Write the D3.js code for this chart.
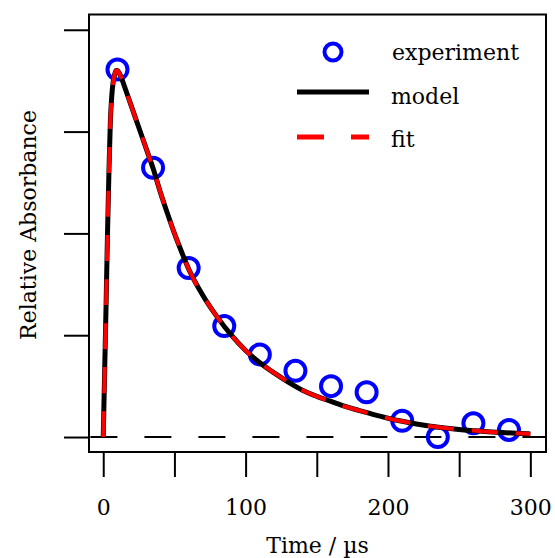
<!DOCTYPE html>
<html>
<head>
<meta charset="utf-8">
<script src="https://cdn.jsdelivr.net/npm/d3@7"></script>
<style>
  body { margin: 0; background: #fff; }
  svg text { font-family: "DejaVu Serif", serif; fill: #000; }
</style>
</head>
<body>
<div id="graph"></div>
<script>
// experiment points (time in us, relative absorbance)
var expTime = [10, 35, 60, 85, 110, 135, 160, 185, 210, 235, 260, 285];
var expAbs = [3.61, 2.645, 1.66, 1.09, 0.81, 0.65, 0.50, 0.44, 0.16, 0.0, 0.135, 0.07];

// model curve
var modelTime = [0, 1, 2, 3, 4, 5, 6, 7, 8, 9, 10, 11, 13, 15, 20, 25, 30, 35, 40, 45, 50, 55, 60,
  70, 80, 90, 100, 110, 120, 130, 140, 150, 160, 170, 180, 190, 200, 210, 220, 230, 240, 250,
  260, 270, 280, 290, 300];
var modelAbs = [0, 0.65, 1.3, 2.0, 2.6, 3.1, 3.35, 3.49, 3.56, 3.6, 3.6, 3.58, 3.52, 3.44, 3.24,
  3.04, 2.84, 2.64, 2.41, 2.2, 2.0, 1.82, 1.65, 1.39, 1.18, 1.0, 0.85, 0.73, 0.63, 0.54, 0.46,
  0.40, 0.35, 0.30, 0.26, 0.22, 0.185, 0.155, 0.128, 0.105, 0.088, 0.074, 0.063, 0.053, 0.045,
  0.037, 0.03];

// fit curve (lies on top of the model)
var fitTime = [0, 1, 2, 3, 4, 5, 6, 7, 8, 9, 10, 11, 13, 15, 20, 25, 30, 35, 40, 45, 50, 55, 60,
  70, 80, 90, 100, 110, 120, 130, 140, 150, 160, 170, 180, 190, 200, 210, 220, 230, 240, 250,
  260, 270, 280, 290, 300];
var fitAbs = [0, 0.64, 1.3, 2.0, 2.6, 3.1, 3.35, 3.49, 3.56, 3.6, 3.6, 3.58, 3.52, 3.44, 3.24,
  3.04, 2.84, 2.64, 2.41, 2.2, 2.0, 1.82, 1.65, 1.39, 1.18, 1.0, 0.85, 0.73, 0.63, 0.54, 0.46,
  0.40, 0.35, 0.30, 0.26, 0.22, 0.185, 0.155, 0.128, 0.105, 0.088, 0.074, 0.063, 0.053, 0.045,
  0.037, 0.03];

var xTicks = [0, 50, 100, 150, 200, 250, 300];
var xLabels = [0, 100, 200, 300];
var yTicks = [0, 1, 2, 3, 4];

var legendNames = ["experiment", "model", "fit"];

var width = 555, height = 558;
// plot frame edges
var pLeft = 89, pRight = 546, pTop = 14.5, pBottom = 452;

var svg = d3.select("#graph")
  .append("svg")
    .attr("width", width)
    .attr("height", height);

var x = d3.scaleLinear().domain([-10, 311]).range([pLeft, pRight]);
var y = d3.scaleLinear().domain([-0.147, 4.15]).range([pBottom, pTop]);

// axes (ticks outside the frame)
var xAxis = d3.axisBottom(x)
  .tickValues(xTicks)
  .tickSize(25)
  .tickPadding(22)
  .tickFormat(function(d) { return xLabels.indexOf(d) >= 0 ? d : ""; });

var gx = svg.append("g")
  .attr("transform", "translate(0," + pBottom + ")")
  .call(xAxis);
gx.select(".domain").remove();
gx.selectAll("line").attr("stroke", "#000").attr("stroke-width", 2);
gx.selectAll("text").style("font-size", "22px").attr("fill", "#000");

var yAxis = d3.axisLeft(y)
  .tickValues(yTicks)
  .tickSize(25)
  .tickFormat("");

var gy = svg.append("g")
  .attr("transform", "translate(" + pLeft + ",0)")
  .call(yAxis);
gy.select(".domain").remove();
gy.selectAll("line").attr("stroke", "#000").attr("stroke-width", 2);

// zero baseline
svg.append("line")
  .attr("x1", x(-9))
  .attr("x2", x(311))
  .attr("y1", y(0))
  .attr("y2", y(0))
  .attr("stroke", "#000")
  .attr("stroke-width", 2)
  .attr("stroke-dasharray", "27,27");

// experiment circles
svg.selectAll("circle.exp")
  .data(expTime)
  .enter()
  .append("circle")
  .attr("class", "exp")
  .attr("cx", function(d) { return x(d); })
  .attr("cy", function(d, i) { return y(expAbs[i]); })
  .attr("r", 10)
  .attr("fill", "none")
  .attr("stroke", "#0000ff")
  .attr("stroke-width", 4);

var line = d3.line()
  .x(function(d) { return x(d[0]); })
  .y(function(d) { return y(d[1]); })
  .curve(d3.curveMonotoneX);

// model
svg.append("path")
  .datum(d3.zip(modelTime, modelAbs))
  .attr("d", line)
  .attr("fill", "none")
  .attr("stroke", "#000")
  .attr("stroke-width", 5);

// fit
svg.append("path")
  .datum(d3.zip(fitTime, fitAbs))
  .attr("d", line)
  .attr("fill", "none")
  .attr("stroke", "#ff0000")
  .attr("stroke-width", 4)
  .attr("stroke-dasharray", "26,18");

// frame
svg.append("rect")
  .attr("x", pLeft)
  .attr("y", pTop)
  .attr("width", pRight - pLeft)
  .attr("height", pBottom - pTop)
  .attr("fill", "none")
  .attr("stroke", "#000")
  .attr("stroke-width", 2);

// legend
var lg = svg.append("g");
lg.append("circle")
  .attr("cx", 333).attr("cy", 52).attr("r", 8.5)
  .attr("fill", "none").attr("stroke", "#0000ff").attr("stroke-width", 4);
lg.append("line")
  .attr("x1", 297).attr("x2", 369).attr("y1", 92).attr("y2", 92)
  .attr("stroke", "#000").attr("stroke-width", 5);
lg.append("line")
  .attr("x1", 297).attr("x2", 369).attr("y1", 137).attr("y2", 137)
  .attr("stroke", "#ff0000").attr("stroke-width", 5)
  .attr("stroke-dasharray", "27,27");
lg.selectAll("text")
  .data(legendNames)
  .enter()
  .append("text")
  .attr("x", function(d, i) { return i == 0 ? 392 : 391; })
  .attr("y", function(d, i) { return 60 + i * 43.5; })
  .style("font-size", "22px")
  .text(function(d) { return d; });

// axis titles
svg.append("text")
  .attr("x", (pLeft + pRight) / 2)
  .attr("y", 553)
  .attr("text-anchor", "middle")
  .style("font-size", "22px")
  .text("Time / µs");

svg.append("text")
  .attr("transform", "translate(36,225) rotate(-90)")
  .attr("text-anchor", "middle")
  .style("font-size", "22px")
  .text("Relative Absorbance");
</script>
</body>
</html>
